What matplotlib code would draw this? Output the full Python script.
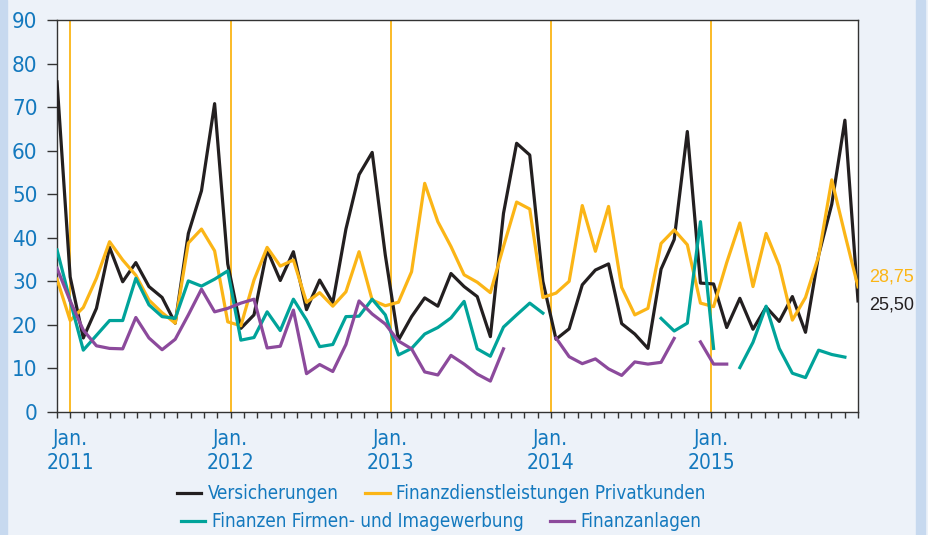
import matplotlib.pyplot as plt
import matplotlib.patches as patches
import numpy as np

plt.rcParams['font.family'] = ['DejaVu Sans']
plt.rcParams['font.stretch'] = 'condensed'

# monthly values, Dec 2010 .. Dec 2015 (62 points)
vers = [75.8, 31.0, 17.0, 23.8, 37.8, 29.9, 34.3, 28.8, 26.3, 20.4,
        41.0, 50.8, 70.8, 34.0, 19.2, 22.3, 37.2, 30.2, 36.8, 23.5,
        30.3, 25.1, 42.0, 54.5, 59.6, 36.0, 16.5, 21.9, 26.2, 24.3,
        31.8, 28.8, 26.5, 17.3, 45.6, 61.7, 59.0, 30.0, 16.7, 19.1,
        29.2, 32.6, 34.0, 20.3, 17.9, 14.6, 32.8, 39.6, 64.4, 29.6,
        29.4, 19.4, 26.1, 19.0, 24.1, 20.8, 26.5, 18.3, 36.0, 47.7,
        67.0, 25.5]
privat = [30.5, 21.0, 24.0, 30.7, 39.1, 34.9, 31.4, 25.7, 22.8, 20.4,
          38.8, 42.0, 37.0, 20.7, 19.8, 30.3, 37.8, 33.5, 34.9, 25.2,
          27.4, 24.3, 27.6, 36.8, 25.7, 24.4, 25.2, 32.2, 52.5, 43.7,
          38.0, 31.5, 29.8, 27.4, 38.0, 48.2, 46.6, 26.3, 27.3, 30.0,
          47.4, 36.9, 47.2, 28.6, 22.3, 23.8, 38.7, 41.8, 38.4, 25.0,
          24.2, 34.3, 43.4, 28.8, 41.0, 33.6, 21.1, 26.3, 35.8, 53.3,
          40.8, 28.75]
nan = np.nan
firmen = [37.2, 25.5, 14.2, 17.6, 21.0, 21.0, 30.7, 24.6, 21.9, 21.5,
          30.1, 28.9, 30.5, 32.4, 16.5, 17.1, 23.0, 18.7, 25.9, 21.1,
          15.0, 15.5, 21.9, 22.0, 25.9, 22.3, 13.1, 14.6, 17.9, 19.4,
          21.6, 25.4, 14.5, 12.8, 19.5, 22.3, 25.0, 22.7, nan, nan,
          nan, nan, nan, nan, nan, nan, 21.5, 18.6, 20.4, 43.7,
          14.6, nan, 10.2, 16.0, 24.3, 14.6, 8.9, 7.9, 14.2, 13.2,
          12.6, nan]
anlagen = [33.0, 25.5, 18.8, 15.2, 14.6, 14.5, 21.7, 17.0, 14.3, 16.7,
           22.3, 28.2, 23.0, 23.8, 25.0, 25.9, 14.7, 15.1, 23.4, 8.8,
           10.9, 9.3, 15.5, 25.5, 22.5, 20.2, 16.3, 14.5, 9.2, 8.5,
           13.0, 11.0, 8.7, 7.1, 14.5, nan, nan, nan, 17.0, 12.7,
           11.1, 12.2, 9.9, 8.4, 11.5, 11.0, 11.4, 16.9, nan, 16.1,
           11.0, 11.0, nan, nan, nan, nan, nan, nan, nan, nan,
           nan, nan]

jan_pos = [1, 13, 25, 37, 49]
jan_labels = ['Jan.\n2011', 'Jan.\n2012', 'Jan.\n2013', 'Jan.\n2014', 'Jan.\n2015']

c_black = '#231f20'
c_orange = '#fbb516'
c_teal = '#00a39a'
c_purple = '#8c4a9c'
c_text = '#1479be'

fig = plt.figure(figsize=(9.29, 5.35), dpi=100, facecolor='#edf2f9')
fig.patches.append(patches.Rectangle((0, 0), 0.008, 1, transform=fig.transFigure,
                                     color='#c7d9ef', zorder=0))
fig.patches.append(patches.Rectangle((0.986, 0), 0.01, 1, transform=fig.transFigure,
                                     color='#c7d9ef', zorder=0))
ax = fig.add_axes([0.0614, 0.2299, 0.8622, 0.7327])
ax.set_facecolor('white')

x = np.linspace(0, 60, len(vers))

for p in jan_pos:
    ax.axvline(p, color=c_orange, lw=1.3, zorder=1)

lw = 2.3
l1, = ax.plot(x, vers, color=c_black, lw=lw, label='Versicherungen', zorder=3)
l2, = ax.plot(x, privat, color=c_orange, lw=lw, label='Finanzdienstleistungen Privatkunden', zorder=3)
l3, = ax.plot(x, firmen, color=c_teal, lw=lw, label='Finanzen Firmen- und Imagewerbung', zorder=3)
l4, = ax.plot(x, anlagen, color=c_purple, lw=lw, label='Finanzanlagen', zorder=3)

ax.set_xlim(0, 60)
ax.set_ylim(0, 90)
ax.set_yticks(range(0, 91, 10))
ax.set_xticks(jan_pos)
ax.set_xticklabels(jan_labels, linespacing=1.3)
ax.set_xticks(range(0, 61), minor=True)

ax.tick_params(axis='y', direction='out', length=7, width=1, color='#333333',
               labelcolor=c_text, labelsize=16, pad=7)
ax.tick_params(axis='x', which='both', direction='out', length=4, width=1,
               color='#333333', labelcolor=c_text, labelsize=15, pad=8)
for s in ax.spines.values():
    s.set_color('#333333')
    s.set_linewidth(1)

ax.annotate('28,75', xy=(x[-1], privat[-1]), xytext=(8, 7), textcoords='offset points',
            color=c_orange, fontsize=13, family='Liberation Sans', stretch='normal',
            va='center', annotation_clip=False)
ax.annotate('25,50', xy=(x[-1], vers[-1]), xytext=(8, -3), textcoords='offset points',
            color=c_black, fontsize=13, family='Liberation Sans', stretch='normal',
            va='center', annotation_clip=False)

leg1 = fig.legend(handles=[l1, l2], loc='center', bbox_to_anchor=(0.475, 0.077), ncol=2,
                  frameon=False, fontsize=13.5, handlelength=1.3, handletextpad=0.35,
                  columnspacing=1.4, labelcolor=c_text)
leg2 = fig.legend(handles=[l3, l4], loc='center', bbox_to_anchor=(0.475, 0.025), ncol=2,
                  frameon=False, fontsize=13.5, handlelength=1.3, handletextpad=0.35,
                  columnspacing=1.4, labelcolor=c_text)

fig.savefig('out.png', dpi=100, facecolor=fig.get_facecolor())
